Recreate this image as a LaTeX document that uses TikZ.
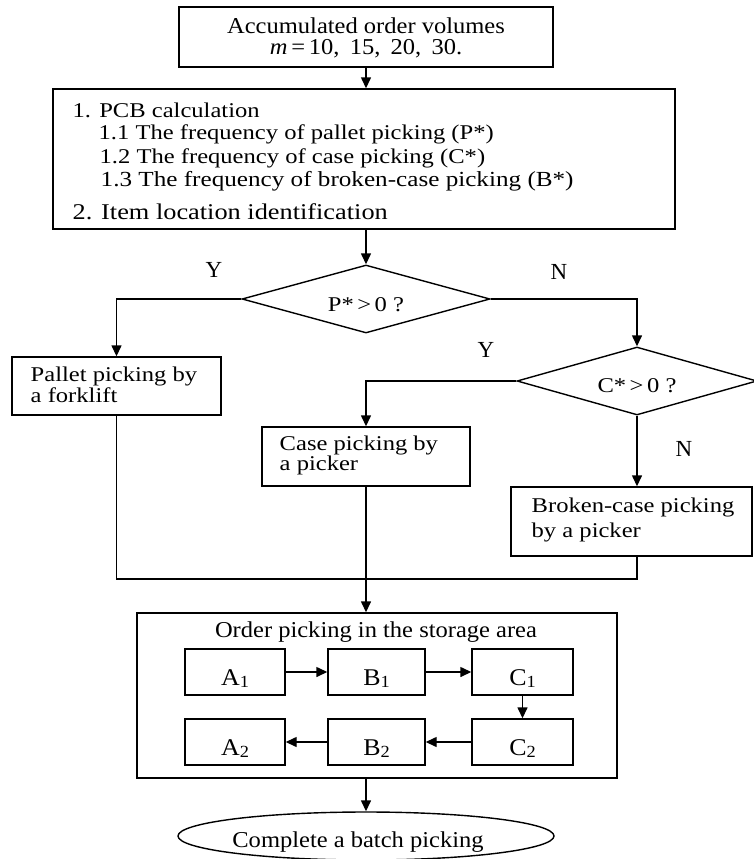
\documentclass[tikz,border=0pt]{standalone}
\usepackage{fontspec}
\setmainfont{Liberation Serif}
\newfontfamily\fa{Liberation Serif}[FakeStretch=1.17]
\newfontfamily\fb{Liberation Serif}[FakeStretch=1.08]
\usetikzlibrary{arrows.meta,shapes.geometric,calc}
\newcommand{\subn}[1]{{\fontsize{17}{17}\selectfont\raisebox{-1.5pt}{#1}}}
\begin{document}
\begin{tikzpicture}[x=1pt,y=-1pt,
  line width=1.4pt,
  arr/.style={-{Triangle[length=11pt,width=10pt]}},
  box/.style={draw,rectangle,inner sep=0pt},
  dia/.style={draw,diamond,inner sep=0pt},
  ta/.style={font=\fa\fontsize{21}{21}\selectfont,inner sep=0pt},
  tb/.style={font=\fb\fontsize{22.7}{21}\selectfont,inner sep=0pt},
  lab/.style={font=\fontsize{23}{23}\selectfont,inner sep=0pt},
  small/.style={box,font=\fb\fontsize{24}{24}\selectfont,minimum width=100pt,minimum height=46pt,text height=27pt,text depth=0pt}]
\useasboundingbox (0,0) rectangle (753,859);

% top box
\node[box,minimum width=374pt,minimum height=60pt] (top) at (366,37) {};
\node[tb,align=center] (toptxt) at (366,37.5) {Accumulated order volumes\\ \textit{m}\,=\,10,\hspace{0.45em}15,\hspace{0.45em}20,\hspace{0.45em}30.};

% PCB box
\node[box,minimum width=622pt,minimum height=140pt] (pcb) at (364,159) {};
\node[ta,anchor=west] (l1) at (72,110) {1. PCB calculation};
\node[ta,anchor=west] (l2) at (98,134) {1.1 The frequency of pallet picking (P*)};
\node[ta,anchor=west] (l3) at (99,158) {1.2 The frequency of case picking (C*)};
\node[ta,anchor=west,font=\fa\fontsize{21.5}{21}\selectfont] (l4) at (100,181) {1.3 The frequency of broken-case picking (B*)};
\node[ta,anchor=west,font=\fa\fontsize{22.5}{21}\selectfont] (l5) at (72,212) {2. Item location identification};

% decisions
\node[dia,ta,aspect=3.65,minimum width=248pt,minimum height=68pt,text height=24pt,text depth=0pt] (d1) at (366,299) {P*\,>\,0 ?};
\node[dia,ta,aspect=3.5,minimum width=240pt,minimum height=68pt,text height=22pt,text depth=0pt] (d2) at (637,381) {C*\,>\,0 ?};

\node[lab] (y1) at (214,270) {Y};
\node[lab] (n1) at (559,272) {N};
\node[lab] (y2) at (486,350) {Y};
\node[lab] (n2) at (684,449) {N};

% action boxes
\node[box,minimum width=209pt,minimum height=58pt] (pal) at (116.5,386) {};
\node[ta,anchor=west,align=left] (paltxt) at (30,384.5) {Pallet picking by\\a forklift};
\node[box,minimum width=208pt,minimum height=59pt] (case) at (366,456.5) {};
\node[ta,anchor=west,align=left,font=\fa\fontsize{21}{19.5}\selectfont] (casetxt) at (279,455.5) {Case picking by\\a picker};
\node[box,minimum width=241pt,minimum height=69pt] (brk) at (631.5,521.5) {};
\node[ta,anchor=west,align=left,font=\fa\fontsize{21}{25}\selectfont] (brktxt) at (531,519.5) {Broken-case picking\\by a picker};

% order picking
\node[box,minimum width=480pt,minimum height=165pt] (order) at (377,695.5) {};
\node[tb] (ordtxt) at (376,632) {Order picking in the storage area};
\node[small] (a1) at (235,672) {A\subn{1}};
\node[small,minimum width=97pt] (b1) at (376.5,672) {B\subn{1}};
\node[small,minimum width=101pt] (c1) at (522.5,672) {C\subn{1}};
\node[small] (a2) at (235,742) {A\subn{2}};
\node[small,minimum width=97pt] (b2) at (376.5,742) {B\subn{2}};
\node[small,minimum width=101pt] (c2) at (522.5,742) {C\subn{2}};

% end
\node[draw,ellipse,inner sep=0pt,minimum width=376pt,minimum height=48pt] (fin) at (366,836) {};
\node[tb,text height=22pt,text depth=0pt] (fintxt) at (358,836) {Complete a batch picking};

% connectors
\coordinate (j) at (0,579);
\draw[arr] (top.south) -- (top.south |- pcb.north);
\draw[arr] (d1.north |- pcb.south) -- (d1.north);
\draw[arr] (d1.west) -| (pal.north);
\draw[arr] (d1.east) -| (d2.north);
\draw[arr] (d2.west) -| (case.north);
\draw[arr] (d2.south) -- (d2.south |- brk.north);
\draw (pal.south) -- (pal.south |- j) -- (d2.south |- j) -- (d2.south |- brk.south);
\draw[arr] (case.south) -- (case.south |- order.north);
\draw[arr] (a1) -- (b1);
\draw[arr] (b1) -- (c1);
\draw[arr] (c1) -- (c2);
\draw[arr] (c2) -- (b2);
\draw[arr] (b2) -- (a2);
\draw[arr] (fin.north |- order.south) -- (fin.north);
\end{tikzpicture}
\end{document}
